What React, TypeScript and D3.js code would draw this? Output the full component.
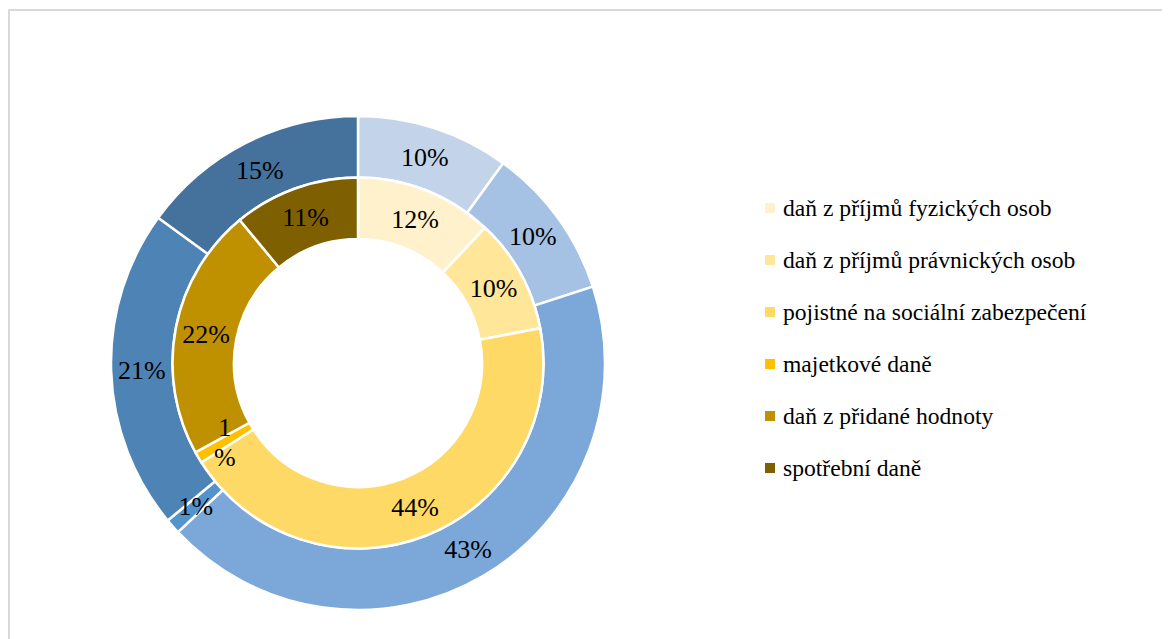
import React from 'react';
import * as d3 from 'd3';

const categories = [
  'daň z příjmů fyzických osob',
  'daň z příjmů právnických osob',
  'pojistné na sociální zabezpečení',
  'majetkové daně',
  'daň z přidané hodnoty',
  'spotřební daně',
];
const outerValues = [10, 10, 43, 1, 21, 15];
const innerValues = [12, 10, 44, 1, 22, 11];
const outerColors = ['#c3d4ea', '#a5c1e3', '#7ba8d9', '#5494cc', '#4e83b5', '#44729c'];
const innerColors = ['#fff1cc', '#ffe699', '#ffd966', '#ffc000', '#bf9000', '#7f6000'];

const FONT = "'Liberation Serif', 'Times New Roman', 'DejaVu Serif', 'Noto Serif', serif";

function App() {
  const width = 1162;
  const height = 631;
  const cx = 350;
  const cy = 355;
  const R = 247;
  const hole = 124;
  const mid = (R + hole) / 2;

  const pie = d3.pie<number>().sort(null).value((d) => d);

  const rings = [
    { key: 'outer', values: outerValues, colors: outerColors, r0: mid, r1: R },
    { key: 'inner', values: innerValues, colors: innerColors, r0: hole, r1: mid },
  ];

  const paths: React.ReactNode[] = [];
  const labels: React.ReactNode[] = [];
  rings.forEach((ring) => {
    const arc = d3.arc<d3.PieArcDatum<number>>().innerRadius(ring.r0).outerRadius(ring.r1);
    const arcs = pie(ring.values);
    const labelR = (ring.r0 + ring.r1) / 2;
    arcs.forEach((d, i) => {
      paths.push(
        <path
          key={ring.key + i}
          d={arc(d) || ''}
          transform={`translate(${cx},${cy})`}
          fill={ring.colors[i]}
          stroke="#fff"
          strokeWidth={2.5}
        />
      );
      const a = (d.startAngle + d.endAngle) / 2;
      const x = cx + labelR * Math.sin(a);
      const y = cy - labelR * Math.cos(a);
      const v = ring.values[i];
      if (ring.key === 'inner' && v < 2) {
        // narrow slice: label wraps onto two lines
        labels.push(
          <text key={ring.key + 'a' + i} x={x} y={y - 6} textAnchor="middle" fontSize={26}>
            {v}
          </text>,
          <text key={ring.key + 'b' + i} x={x} y={y + 24} textAnchor="middle" fontSize={26}>
            %
          </text>
        );
      } else {
        labels.push(
          <text key={ring.key + 'l' + i} x={x} y={y + 9} textAnchor="middle" fontSize={26}>
            {`${v}%`}
          </text>
        );
      }
    });
  });

  return (
    <div style={{ fontFamily: FONT }}>
      <svg width={width} height={height} style={{ display: 'block', fontFamily: 'inherit' }}>
        <rect x={1} y={2} width={1300} height={800} fill="#fff" stroke="#d9d9d9" strokeWidth={2} />
        {paths}
        {labels}
        {categories.map((c, i) => (
          <rect key={'m' + i} x={757} y={195 + i * 52} width={10} height={10} fill={innerColors[i]} />
        ))}
        {categories.map((c, i) => (
          <text key={'t' + i} x={775} y={208 + i * 52} fontSize={23.6}>
            {c}
          </text>
        ))}
      </svg>
    </div>
  );
}

export default App;
